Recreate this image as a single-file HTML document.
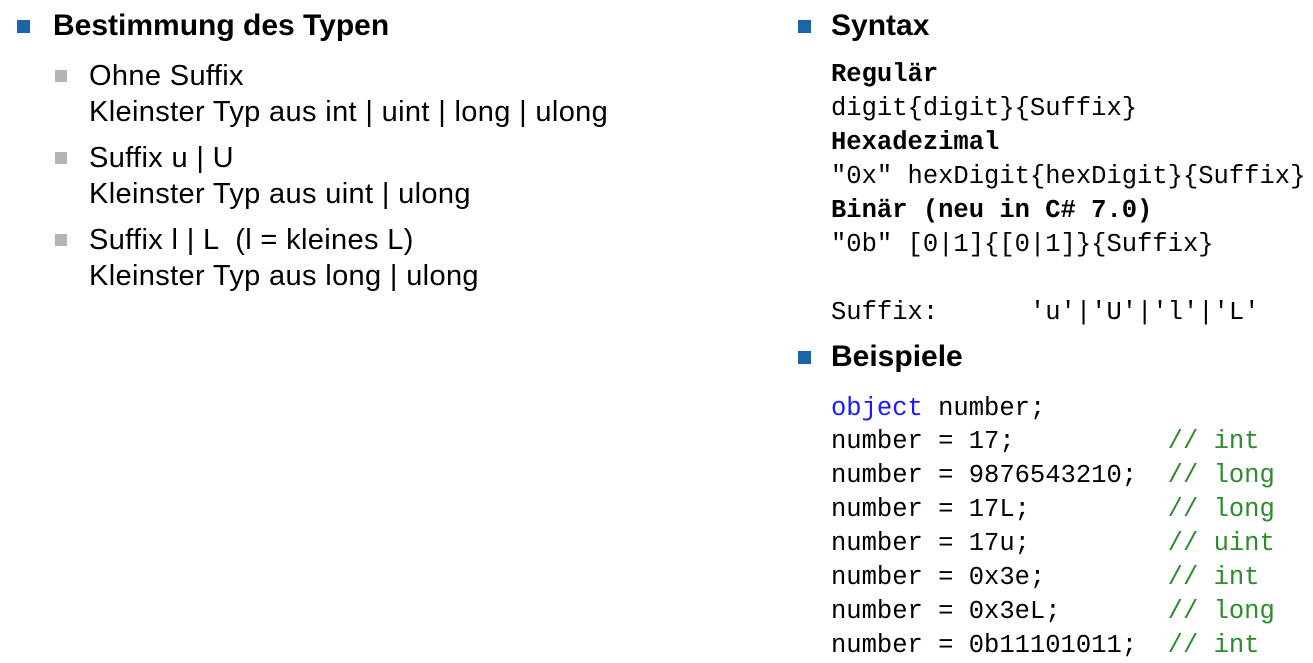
<!DOCTYPE html>
<html><head><meta charset="utf-8"><style>
body{margin:0;width:1313px;height:663px;background:#fff;position:relative;overflow:hidden;font-family:"Liberation Sans",Arial,sans-serif;color:#000}
.a{position:absolute;white-space:pre;line-height:1}
.h{font-weight:bold;font-size:30px}
.s{font-size:29px;letter-spacing:0.35px}
.m{font-family:"Liberation Mono","DejaVu Sans Mono",monospace;font-size:25.5px}
.b{font-weight:bold}
.sq{position:absolute;width:13px;height:13px;background:#1e64a8}
.gs{position:absolute;width:12px;height:12px;background:#b4b4b4}
.k{color:#1a1aff}.c{color:#2e8b2e}
</style></head><body>
<div class="sq" style="left:17px;top:20px"></div>
<div class="a h" style="left:53px;top:11px">Bestimmung des Typen</div>
<div class="gs" style="left:55px;top:70px"></div>
<div class="a s" style="left:89px;top:62px">Ohne Suffix</div>
<div class="a s" style="left:89px;top:98px">Kleinster Typ aus int | uint | long | ulong</div>
<div class="gs" style="left:55px;top:152px"></div>
<div class="a s" style="left:89px;top:144px">Suffix u | U</div>
<div class="a s" style="left:89px;top:180px">Kleinster Typ aus uint | ulong</div>
<div class="gs" style="left:55px;top:234px"></div>
<div class="a s" style="left:89px;top:226px">Suffix l | L  (l = kleines L)</div>
<div class="a s" style="left:89px;top:262px">Kleinster Typ aus long | ulong</div>

<div class="sq" style="left:798px;top:20px"></div>
<div class="a h" style="left:831px;top:11px">Syntax</div>
<div class="a m b" style="left:831px;top:62px">Regulär</div>
<div class="a m" style="left:831px;top:96px">digit{digit}{Suffix}</div>
<div class="a m b" style="left:831px;top:130px">Hexadezimal</div>
<div class="a m" style="left:831px;top:164px">"0x" hexDigit{hexDigit}{Suffix}</div>
<div class="a m b" style="left:831px;top:198px">Binär (neu in C# 7.0)</div>
<div class="a m" style="left:831px;top:232px">"0b" [0|1]{[0|1]}{Suffix}</div>
<div class="a m" style="left:831px;top:300px">Suffix:      'u'|'U'|'l'|'L'</div>
<div class="sq" style="left:798px;top:351px"></div>
<div class="a h" style="left:831px;top:342px">Beispiele</div>
<div class="a m" style="left:831px;top:396px"><span class="k">object</span> number;</div>
<div class="a m" style="left:831px;top:429px">number = 17;          <span class="c">// int</span></div>
<div class="a m" style="left:831px;top:463px">number = 9876543210;  <span class="c">// long</span></div>
<div class="a m" style="left:831px;top:497px">number = 17L;         <span class="c">// long</span></div>
<div class="a m" style="left:831px;top:531px">number = 17u;         <span class="c">// uint</span></div>
<div class="a m" style="left:831px;top:565px">number = 0x3e;        <span class="c">// int</span></div>
<div class="a m" style="left:831px;top:599px">number = 0x3eL;       <span class="c">// long</span></div>
<div class="a m" style="left:831px;top:633px">number = 0b11101011;  <span class="c">// int</span></div>
</body></html>
